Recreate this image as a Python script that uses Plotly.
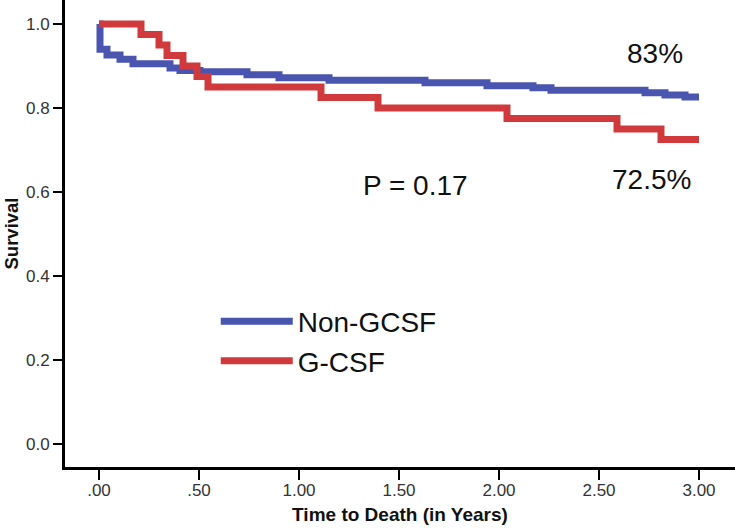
import plotly.graph_objects as go

# Non-GCSF survival (step function)
non_gcsf_t = [0.0, 0.005, 0.04, 0.105, 0.17, 0.355, 0.405, 0.505, 0.74, 0.9, 1.15, 1.63, 1.94, 2.17, 2.26, 2.73, 2.83, 2.93, 3.0]
non_gcsf_s = [1.0, 0.940, 0.926, 0.916, 0.905, 0.895, 0.889, 0.886, 0.879, 0.872, 0.866, 0.860, 0.853, 0.848, 0.842, 0.836, 0.831, 0.826, 0.826]

# G-CSF survival (step function)
gcsf_t = [0.0, 0.21, 0.30, 0.34, 0.42, 0.49, 0.545, 1.11, 1.395, 2.04, 2.59, 2.81, 3.0]
gcsf_s = [1.0, 0.975, 0.95, 0.925, 0.90, 0.875, 0.85, 0.825, 0.80, 0.775, 0.75, 0.725, 0.725]

x_tick_vals = [0, 0.5, 1.0, 1.5, 2.0, 2.5, 3.0]
x_tick_text = [".00", ".50", "1.00", "1.50", "2.00", "2.50", "3.00"]
y_tick_vals = [0.0, 0.2, 0.4, 0.6, 0.8, 1.0]
y_tick_text = ["0.0", "0.2", "0.4", "0.6", "0.8", "1.0"]

BLUE = "#4a55b0"
RED = "#d03a3c"
FONT = "Liberation Sans, Arial, sans-serif"
NARROW = "Liberation Sans Narrow, Arial Narrow, Liberation Sans, sans-serif"

fig = go.Figure()
fig.add_trace(go.Scatter(x=non_gcsf_t, y=non_gcsf_s, mode="lines", name="Non-GCSF",
                         line=dict(color=BLUE, width=7, shape="hv")))
fig.add_trace(go.Scatter(x=gcsf_t, y=gcsf_s, mode="lines", name="G-CSF",
                         line=dict(color=RED, width=7, shape="hv")))

fig.add_annotation(x=2.78, y=0.93, text="83%", showarrow=False,
                   font=dict(family=FONT, size=28, color="#111"))
fig.add_annotation(x=2.76, y=0.63, text="72.5%", showarrow=False,
                   font=dict(family=FONT, size=28, color="#111"))
fig.add_annotation(x=1.58, y=0.615, text="P = 0.17", showarrow=False,
                   font=dict(family=FONT, size=28, color="#111"))

fig.update_layout(
    width=735, height=529,
    margin=dict(l=65, r=0, t=0, b=62, autoexpand=False),
    paper_bgcolor="white", plot_bgcolor="white",
    showlegend=True,
    legend=dict(x=0.225, y=0.365, xanchor="left", yanchor="top",
                font=dict(family=FONT, size=28, color="#111"),
                bgcolor="rgba(0,0,0,0)", itemwidth=72, tracegroupgap=0),
    xaxis=dict(range=[-0.17, 3.18], tickvals=x_tick_vals, ticktext=x_tick_text,
               automargin=False,
               showgrid=False, zeroline=False, showline=True, linecolor="black", linewidth=3,
               ticks="outside", ticklen=10, tickwidth=2, tickcolor="black",
               ticklabelstandoff=-4,
               tickfont=dict(family=NARROW, size=17, color="#333"),
               title=dict(text="<b>Time to Death (in Years)</b>", standoff=9,
                          font=dict(family=FONT, size=19, color="#111"))),
    yaxis=dict(range=[-0.055, 1.057], tickvals=y_tick_vals, ticktext=y_tick_text,
               automargin=False,
               showgrid=False, zeroline=False, showline=True, linecolor="black", linewidth=3,
               ticks="outside", ticklen=9, tickwidth=2, tickcolor="black",
               tickfont=dict(family=NARROW, size=17, color="#333"),
               title=dict(text="<b>Survival</b>", standoff=3,
                          font=dict(family=FONT, size=18.5, color="#111"))),
)

fig.write_html("out.html", config={"displayModeBar": False},
               post_script="document.body.style.margin='0';document.body.style.overflow='hidden';")
